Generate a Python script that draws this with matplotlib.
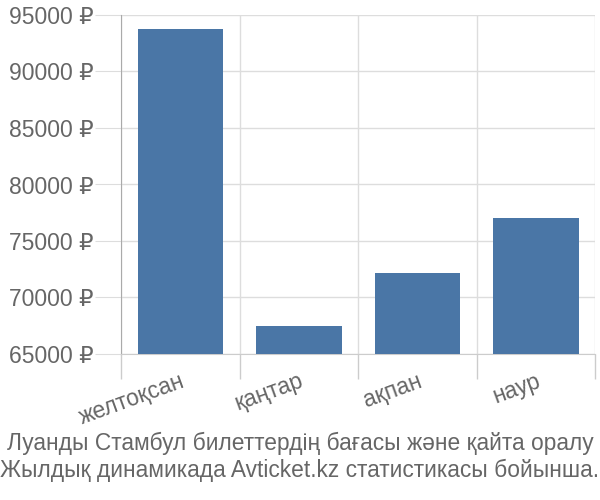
import matplotlib.pyplot as plt

months = ['желтоқсан', 'қаңтар', 'ақпан', 'наур']
prices = [93800, 67450, 72200, 77000]
yticks = [65000, 70000, 75000, 80000, 85000, 90000, 95000]
caption = ('Луанды Стамбул билеттердің бағасы және қайта оралу\n'
           'Жылдық динамикада Avticket.kz статистикасы бойынша.')

plt.rcParams['font.family'] = ['Liberation Sans', 'DejaVu Sans']

fig = plt.figure(figsize=(6, 5), dpi=100)
ax = fig.add_axes([0.202, 0.292, 0.79, 0.678])

x = list(range(len(months)))
ax.bar(x, prices, width=0.72, color='#4a76a6', zorder=3)

ax.set_xlim(-0.5, len(months) - 0.5)
ax.set_ylim(65000, 95000)
ax.set_yticks(yticks)
ax.set_yticklabels([f'{v} ₽' for v in yticks])

# vertical grid at category boundaries
ax.set_xticks([i - 0.5 for i in x] + [len(months) - 0.5], minor=True)
ax.set_xticks(x)
ax.set_xticklabels(months, rotation=20, ha='right', rotation_mode='anchor')
ax.tick_params(axis='x', which='major', length=0, pad=11, labelsize=16.5, labelcolor='#666666')
ax.tick_params(axis='x', which='minor', length=18, color='#cccccc', width=1)
ax.tick_params(axis='y', length=19, color='#dddddd', labelsize=16.5, labelcolor='#666666', pad=1)
ax.grid(axis='y', color='#dddddd', lw=1, zorder=0)
ax.grid(axis='x', which='minor', color='#dddddd', lw=1, zorder=0)

for s in ['top', 'right']:
    ax.spines[s].set_visible(False)
ax.spines['left'].set_color('#aaaaaa')
ax.spines['bottom'].set_color('#cccccc')

fig.text(0.5, 0.037, caption, ha='center', va='bottom', fontsize=16.4,
         color='#666666', linespacing=1.2)

fig.savefig('out.png', dpi=100)
